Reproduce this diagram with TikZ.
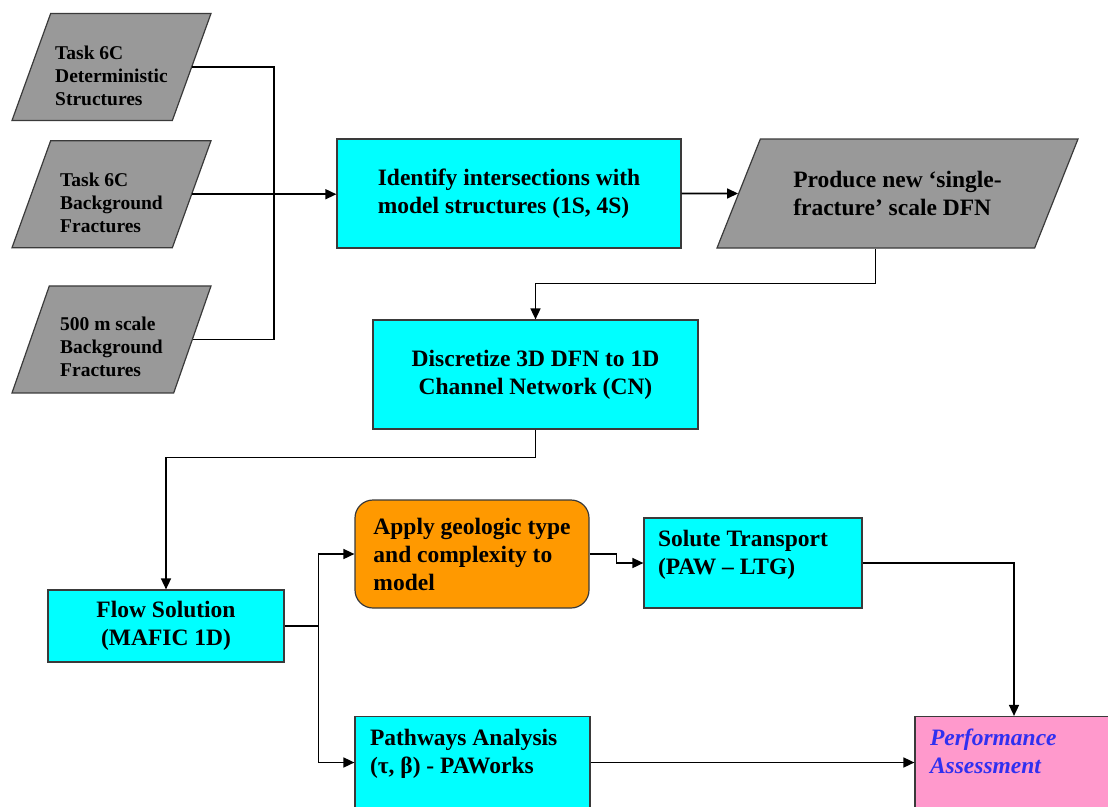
\documentclass[tikz,border=0pt]{standalone}
\usepackage{fontspec}
\setmainfont{Liberation Serif}
\usetikzlibrary{arrows.meta,positioning,shapes.geometric}
\definecolor{boxcyan}{HTML}{00FFFF}
\definecolor{datagray}{HTML}{999999}
\definecolor{choiceorange}{HTML}{FF9900}
\definecolor{resultpink}{HTML}{FF99CC}
\definecolor{resultblue}{HTML}{3030F0}
\definecolor{edgegray}{HTML}{3A3A3A}
\tikzset{
  base box/.style={draw=edgegray,line width=1.2pt,inner sep=4pt,
    font=\bfseries\fontsize{23.5}{28}\selectfont},
  process box/.style={base box,rectangle,fill=boxcyan},
  choice box/.style={base box,rectangle,rounded corners=18pt,fill=choiceorange},
  result box/.style={base box,rectangle,fill=resultpink,text=resultblue,
    font=\bfseries\itshape\fontsize{23.5}{28}\selectfont},
  data shape/.style={base box,trapezium,trapezium stretches body,fill=datagray},
  input shape/.style={data shape,trapezium left angle=65.6,
    trapezium right angle=114.4,minimum width=199pt,minimum height=107pt,
    align=left,font=\bfseries\fontsize{19.5}{23}\selectfont},
  flow line/.style={line width=1.6pt},
  flow arrow/.style={flow line,-{Triangle[length=11pt,width=10pt]}},
}

\begin{document}
\begin{tikzpicture}[x=1pt,y=-1pt]
  \clip (0,0) rectangle (1108,806);
  % input data sets
  \node[input shape] (task1) at (111.5,67)
    {\rule{0pt}{31pt}Task 6C\\Deterministic\\Structures};
  \node[input shape,below=19pt of task1] (task2)
    {\rule{0pt}{31pt}Task 6C\\Background\\Fractures};
  \node[input shape,below=37pt of task2] (task3)
    {\rule{0pt}{28pt}500 m scale\\Background\\Fractures};
  % main chain
  \node[process box,minimum width=344pt,minimum height=109pt,align=left]
    (ident) at (509,193.5) {Identify intersections with\\model structures (1S, 4S)};
  \node[data shape,trapezium left angle=50.5,trapezium right angle=129.5,
    minimum width=361pt,minimum height=109pt,align=left]
    (prod) at (897.5,193.5) {Produce new ‘single-\\fracture’ scale DFN};
  \node[process box,minimum width=325pt,minimum height=109pt,align=center]
    (disc) at (535.5,374.5) {Discretize 3D DFN to 1D\\Channel Network (CN)};
  \node[process box,minimum width=236pt,minimum height=72pt,align=center]
    (flow) at (166,626) {Flow Solution\\(MAFIC 1D)};
  \node[choice box,minimum width=234pt,minimum height=108pt,align=left]
    (apply) at (472,554) {Apply geologic type\\and complexity to\\model};
  \node[process box,minimum width=218pt,minimum height=90pt,align=flush left,
    inner xsep=14pt,text width=190pt]
    (solute) at (753,563) {Solute Transport\\(PAW – LTG)\rule[-21pt]{0pt}{21pt}};
  \node[process box,minimum width=235pt,minimum height=92pt,align=flush left,
    inner xsep=15pt,text width=205pt]
    (paths) at (472.5,762.5) {Pathways Analysis\\(τ, β) - PAWorks\rule[-23pt]{0pt}{23pt}};
  \node[result box,minimum width=198pt,minimum height=92pt,align=flush left,
    inner xsep=15pt,text width=168pt]
    (perf) at (1014,762.5) {Performance\\Assessment\rule[-23pt]{0pt}{23pt}};

  % connectors
  \coordinate (bus) at (274,0);
  \draw[flow line] (task1.east) -- (task1.east -| bus)
    -- (task3.east -| bus) -- (task3.east);
  \draw[flow arrow] (task2.east) -- (task2.east -| ident.west);
  \draw[flow arrow] (ident.east) -- (prod.west);
  \draw[flow arrow] (prod.bottom side) -- ++(0,35) -| (disc.north);
  \draw[flow arrow] (disc.south) -- ++(0,28) -| (flow.north);
  \draw[flow line] (flow.east) -- ++(34,0) coordinate (split);
  \draw[flow arrow] (split) |- (apply.west);
  \draw[flow arrow] (split) |- (paths.west);
  \draw[flow arrow] (apply.east) -- ++(27,0) |- (solute.west);
  \draw[flow arrow] (solute.east) -| (perf.north);
  \draw[flow arrow] (paths.east) -- (perf.west);
\end{tikzpicture}
\end{document}
